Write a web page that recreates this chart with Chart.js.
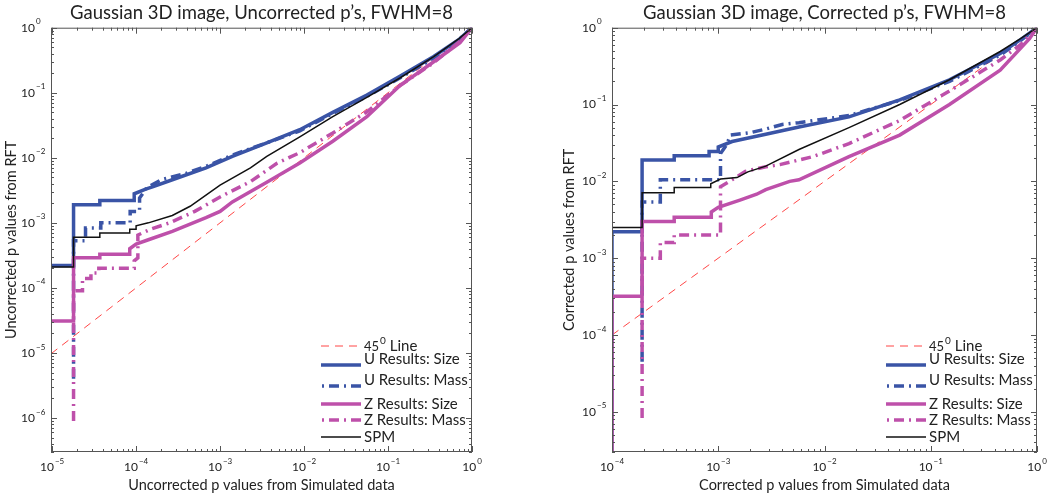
<!DOCTYPE html>
<html>
<head>
<meta charset="utf-8">
<script src="https://cdn.jsdelivr.net/npm/chart.js@4.4.0/dist/chart.umd.min.js"></script>
<style>
  body { margin: 0; background: #fff; }
  .wrap { position: relative; width: 1050px; height: 498px; }
  .panel { position: absolute; top: 0; width: 525px; height: 498px; }
</style>
</head>
<body>
<div class="wrap">
  <div class="panel" style="left:0"><canvas id="left"></canvas></div>
  <div class="panel" style="left:525px"><canvas id="right"></canvas></div>
</div>
<script>
// ---- data: [simulated p, RFT p] pairs ----
const legendLabels = ['45^0 Line', 'U Results: Size', 'U Results: Mass', 'Z Results: Size', 'Z Results: Mass', 'SPM'];

// left panel: uncorrected p's
const leftXRange = [9.7e-6, 1];
const leftYRange = [3e-7, 1];
const leftXExp = [-5, -4, -3, -2, -1, 0];
const leftYExp = [-6, -5, -4, -3, -2, -1, 0];
const leftDiag = [[9.7e-6, 9.7e-6], [1, 1]];
const leftUSize = [[9.7e-6, 2.2e-4], [1.8e-5, 2.2e-4], [1.8e-5, 1.9e-3], [3.7e-5, 1.9e-3], [3.7e-5, 2.2e-3], [9.5e-5, 2.2e-3], [9.5e-5, 2.8e-3], [1.3e-4, 3.3e-3], [1.6e-4, 3.6e-3], [2.7e-4, 4.6e-3], [6.8e-4, 7e-3], [1.4e-3, 0.0105], [3.6e-3, 0.017], [8.9e-3, 0.027], [0.022, 0.05], [0.056, 0.092], [0.14, 0.18], [0.35, 0.36], [0.7, 0.66], [1, 1]];
const leftUMass = [[1.8e-5, 4e-6], [1.8e-5, 5.3e-4], [2.5e-5, 5.3e-4], [2.5e-5, 8.3e-4], [3.8e-5, 8.3e-4], [3.8e-5, 1e-3], [8.5e-5, 1e-3], [8.5e-5, 1.5e-3], [1.1e-4, 1.5e-3], [1.1e-4, 2.4e-3], [1.35e-4, 3.5e-3], [2e-4, 4.6e-3], [4e-4, 5.8e-3], [7e-4, 7.5e-3], [1.4e-3, 0.011], [3.6e-3, 0.017], [8.9e-3, 0.026], [0.022, 0.048], [0.056, 0.088], [0.14, 0.17], [0.3, 0.3], [0.6, 0.55], [1, 1]];
const leftZSize = [[9.7e-6, 3.1e-5], [1.8e-5, 3.1e-5], [1.8e-5, 2.9e-4], [3.7e-5, 2.9e-4], [3.7e-5, 3.3e-4], [8.4e-5, 3.3e-4], [8.4e-5, 4e-4], [1e-4, 4.7e-4], [1.4e-4, 5.5e-4], [2.7e-4, 7.4e-4], [6.8e-4, 1.2e-3], [1e-3, 1.5e-3], [1.4e-3, 2.1e-3], [3.6e-3, 4.2e-3], [8.9e-3, 8.3e-3], [0.022, 0.018], [0.056, 0.043], [0.14, 0.13], [0.35, 0.3], [0.72, 0.59], [1, 1]];
const leftZMass = [[1.8e-5, 9e-7], [1.8e-5, 9e-5], [2.3e-5, 9e-5], [2.3e-5, 1.4e-4], [2.9e-5, 1.4e-4], [2.9e-5, 1.7e-4], [3.6e-5, 1.7e-4], [3.6e-5, 2e-4], [9.5e-5, 2e-4], [9.5e-5, 2.6e-4], [1.05e-4, 2.9e-4], [1.05e-4, 6.5e-4], [1.5e-4, 8e-4], [2.5e-4, 1e-3], [5e-4, 1.5e-3], [1e-3, 2.5e-3], [2.3e-3, 4.3e-3], [4.8e-3, 8.3e-3], [8.9e-3, 0.012], [0.022, 0.024], [0.056, 0.051], [0.14, 0.13], [0.35, 0.29], [0.7, 0.6], [1, 1]];
const leftSPM = [[9.7e-6, 2.1e-4], [1.8e-5, 2.1e-4], [1.8e-5, 6e-4], [3.7e-5, 6e-4], [3.7e-5, 7e-4], [8.4e-5, 7e-4], [8.4e-5, 8e-4], [1e-4, 8e-4], [1e-4, 9e-4], [1.4e-4, 1e-3], [2.7e-4, 1.3e-3], [4.4e-4, 1.8e-3], [1e-3, 3.8e-3], [2.3e-3, 7e-3], [3.6e-3, 0.0105], [8.9e-3, 0.021], [0.022, 0.043], [0.056, 0.085], [0.14, 0.17], [0.35, 0.36], [0.7, 0.68], [1, 1]];

// right panel: corrected p's
const rightXRange = [1e-4, 1];
const rightYRange = [3e-6, 1];
const rightXExp = [-4, -3, -2, -1, 0];
const rightYExp = [-5, -4, -3, -2, -1, 0];
const rightDiag = [[1e-4, 1e-4], [1, 1]];
const rightUSize = [[1e-4, 1e-6], [1e-4, 2.2e-3], [1.92e-4, 2.2e-3], [1.92e-4, 0.019], [3.85e-4, 0.019], [3.85e-4, 0.0215], [8.2e-4, 0.0215], [8.2e-4, 0.0245], [1e-3, 0.0245], [1e-3, 0.028], [1.35e-3, 0.033], [2.8e-3, 0.041], [5.75e-3, 0.051], [0.017, 0.069], [0.051, 0.115], [0.15, 0.21], [0.45, 0.46], [0.7, 0.7], [1, 1]];
const rightUMass = [[1.92e-4, 4.5e-5], [1.92e-4, 5.4e-3], [2.85e-4, 5.4e-3], [2.85e-4, 0.0105], [1.05e-3, 0.0105], [1.05e-3, 0.023], [1.2e-3, 0.03], [1.3e-3, 0.04], [2e-3, 0.043], [2.8e-3, 0.048], [4e-3, 0.055], [5.75e-3, 0.058], [0.017, 0.072], [0.051, 0.113], [0.15, 0.2], [0.45, 0.44], [0.7, 0.68], [1, 1]];
const rightZSize = [[1e-4, 1e-6], [1e-4, 3.2e-4], [1.92e-4, 3.2e-4], [1.92e-4, 3e-3], [3.85e-4, 3e-3], [3.85e-4, 3.4e-3], [8.6e-4, 3.4e-3], [8.6e-4, 4e-3], [1e-3, 4.6e-3], [1.6e-3, 5.7e-3], [2.3e-3, 6.8e-3], [2.8e-3, 7.8e-3], [4.7e-3, 0.01], [5.75e-3, 0.0105], [0.017, 0.021], [0.051, 0.04], [0.15, 0.1], [0.45, 0.28], [0.85, 0.72], [1, 1]];
const rightZMass = [[1.92e-4, 8.3e-6], [1.92e-4, 1e-3], [2.85e-4, 1e-3], [2.85e-4, 1.6e-3], [3.85e-4, 1.6e-3], [3.85e-4, 2e-3], [1.05e-3, 2e-3], [1.05e-3, 8.5e-3], [1.35e-3, 0.0105], [1.8e-3, 0.0135], [2.8e-3, 0.0155], [3.8e-3, 0.0165], [7.8e-3, 0.021], [0.017, 0.031], [0.051, 0.062], [0.15, 0.15], [0.45, 0.38], [0.7, 0.6], [1, 1]];
const rightSPM = [[1e-4, 2.5e-3], [1.92e-4, 2.5e-3], [1.92e-4, 7.1e-3], [3.85e-4, 7.1e-3], [3.85e-4, 8.3e-3], [8.5e-4, 8.3e-3], [8.5e-4, 9.3e-3], [1.05e-3, 0.0107], [1.5e-3, 0.0112], [1.9e-3, 0.0133], [2.8e-3, 0.0158], [5.75e-3, 0.026], [0.017, 0.05], [0.051, 0.1], [0.15, 0.21], [0.45, 0.49], [0.7, 0.72], [1, 1]];

// ---- styles ----
const FONT = 'Lato, "Open Sans", sans-serif';
const BLUE = '#3a54a6';
const MAG = '#be50aa';
const DASHDOT = [10, 5, 2, 5];
const styles = [
  { color: '#ff4646', width: 1, dash: [8, 6] },
  { color: BLUE, width: 3.5, dash: [] },
  { color: BLUE, width: 3.5, dash: DASHDOT },
  { color: MAG, width: 3.5, dash: [] },
  { color: MAG, width: 3.5, dash: DASHDOT },
  { color: '#111', width: 1.5, dash: [] }
];
const legendLineY = [346, 365, 386, 404, 420, 437];
const legendTextY = [346, 359, 380, 404, 420, 437];

function logTicks(min, max) {
  const out = [];
  for (let e = Math.floor(Math.log10(min)); e <= Math.ceil(Math.log10(max)); e++) {
    for (let m = 1; m < 10; m++) {
      const v = m * Math.pow(10, e);
      if (v >= min * 0.999 && v <= max * 1.001) out.push([v, m === 1]);
    }
  }
  return out;
}

function expText(e) {
  return e < 0 ? '\u2212' + Math.abs(e) : String(e);
}

// "10" with a raised exponent; anchor is right edge of "10" or centre of the whole label
function drawPow(ctx, e, x, y, mode) {
  ctx.font = '12px ' + FONT;
  const w10 = ctx.measureText('10').width;
  ctx.font = '8px ' + FONT;
  const we = ctx.measureText(expText(e)).width;
  let x0 = mode === 'center' ? x - (w10 + 1 + we) / 2 : x - w10;
  ctx.textBaseline = 'middle';
  ctx.textAlign = 'left';
  ctx.font = '12px ' + FONT;
  ctx.fillText('10', x0, y);
  ctx.font = '8px ' + FONT;
  ctx.fillText(expText(e), x0 + w10 + 1, y - 6);
}

function drawLabel(ctx, text, x, y) {
  // text like '45^0 Line'
  const m = text.match(/^(.*?)\^(\S+)(.*)$/);
  ctx.textBaseline = 'middle';
  ctx.textAlign = 'left';
  if (!m) {
    ctx.font = '15px ' + FONT;
    ctx.fillText(text, x, y);
    return;
  }
  ctx.font = '13px ' + FONT;
  ctx.fillText(m[1], x, y + 1);
  x += ctx.measureText(m[1]).width + 1;
  ctx.font = '10px ' + FONT;
  ctx.fillText(m[2], x, y - 5);
  x += ctx.measureText(m[2]).width;
  ctx.font = '15px ' + FONT;
  ctx.fillText(m[3], x, y);
}

const framePlugin = {
  id: 'frame',
  afterDraw(chart, args, o) {
    const { ctx, chartArea: a, scales: { x, y } } = chart;
    ctx.save();
    ctx.strokeStyle = '#555';
    ctx.lineWidth = 1;
    ctx.strokeRect(a.left + 0.5, a.top + 0.5, a.right - a.left - 1, a.bottom - a.top - 1);
    ctx.beginPath();
    logTicks(x.min, x.max).forEach(([v, major]) => {
      const px = Math.round(x.getPixelForValue(v)) + 0.5;
      const len = major ? 6 : 3;
      ctx.moveTo(px, a.bottom); ctx.lineTo(px, a.bottom - len);
      ctx.moveTo(px, a.top); ctx.lineTo(px, a.top + len);
    });
    logTicks(y.min, y.max).forEach(([v, major]) => {
      const py = Math.round(y.getPixelForValue(v)) + 0.5;
      const len = major ? 6 : 3;
      ctx.moveTo(a.left, py); ctx.lineTo(a.left + len, py);
      ctx.moveTo(a.right, py); ctx.lineTo(a.right - len, py);
    });
    ctx.stroke();

    ctx.fillStyle = '#222';
    o.xExp.forEach(e => drawPow(ctx, e, x.getPixelForValue(Math.pow(10, e)), a.bottom + 15, 'center'));
    o.yExp.forEach(e => drawPow(ctx, e, a.left - 16, y.getPixelForValue(Math.pow(10, e)), 'right'));

    // legend inside the axes
    legendLabels.forEach((lab, i) => {
      const s = styles[i];
      ctx.save();
      ctx.strokeStyle = s.color;
      ctx.lineWidth = s.width;
      ctx.setLineDash(s.dash);
      ctx.lineDashOffset = s.dash === DASHDOT ? 14 : 0;
      ctx.beginPath();
      ctx.moveTo(o.legendX, legendLineY[i]);
      ctx.lineTo(o.legendX + 40, legendLineY[i]);
      ctx.stroke();
      ctx.restore();
      ctx.fillStyle = '#222';
      drawLabel(ctx, lab, o.legendX + 43, legendTextY[i]);
    });
    ctx.restore();
  }
};

function makePanel(id, p) {
  const datasets = p.series.map((pts, i) => ({
    label: legendLabels[i],
    data: pts.map(([x, y]) => ({ x, y })),
    borderColor: styles[i].color,
    borderWidth: styles[i].width,
    borderDash: styles[i].dash,
    pointRadius: 0,
    tension: 0,
    fill: false,
    order: 5 - i
  }));
  return new Chart(document.getElementById(id), {
    type: 'line',
    data: { datasets },
    plugins: [framePlugin],
    options: {
      responsive: true,
      maintainAspectRatio: false,
      animation: false,
      events: [],
      layout: { padding: { left: 0, right: p.padRight, top: 2, bottom: 0 } },
      plugins: {
        legend: { display: false },
        tooltip: { enabled: false },
        title: {
          display: true, text: p.title, fullSize: false,
          color: '#222', font: { family: FONT, size: 18.5, weight: 'normal' },
          padding: { top: 0, bottom: 3.5 }
        },
        frame: { xExp: p.xExp, yExp: p.yExp, legendX: p.legendX }
      },
      scales: {
        x: {
          type: 'logarithmic', min: p.xr[0], max: p.xr[1],
          grid: { display: false }, border: { display: false }, ticks: { display: false },
          title: { display: true, text: p.xTitle, color: '#222', font: { family: FONT, size: 14.5 }, padding: { top: 0, bottom: 4 } },
          afterFit: s => { s.height = 46; }
        },
        y: {
          type: 'logarithmic', min: p.yr[0], max: p.yr[1],
          grid: { display: false }, border: { display: false }, ticks: { display: false },
          title: { display: true, text: p.yTitle, color: '#222', font: { family: FONT, size: 14.5 }, padding: { top: p.yTitlePad, bottom: 0 } },
          afterFit: s => { s.width = p.yWidth; }
        }
      }
    }
  });
}

makePanel('left', {
  series: [leftDiag, leftUSize, leftUMass, leftZSize, leftZMass, leftSPM],
  xr: leftXRange, yr: leftYRange, xExp: leftXExp, yExp: leftYExp,
  title: 'Gaussian 3D image, Uncorrected p\u2019s, FWHM=8',
  xTitle: 'Uncorrected p values from Simulated data',
  yTitle: 'Uncorrected p values from RFT',
  yWidth: 51, padRight: 53, yTitlePad: 3, legendX: 321
});

makePanel('right', {
  series: [rightDiag, rightUSize, rightUMass, rightZSize, rightZMass, rightSPM],
  xr: rightXRange, yr: rightYRange, xExp: rightXExp, yExp: rightYExp,
  title: 'Gaussian 3D image, Corrected p\u2019s, FWHM=8',
  xTitle: 'Corrected p values from Simulated data',
  yTitle: 'Corrected p values from RFT',
  yWidth: 87, padRight: 13, yTitlePad: 36, legendX: 361
});
</script>
</body>
</html>
